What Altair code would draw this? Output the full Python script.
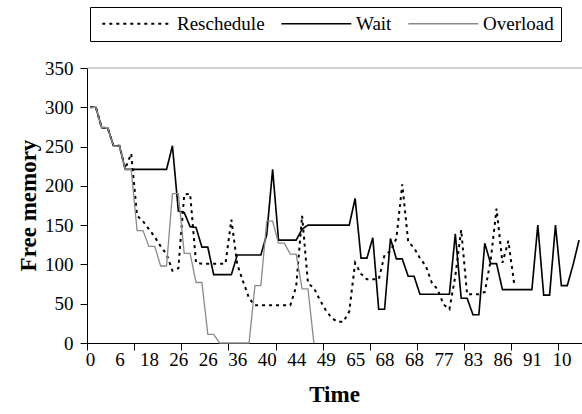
import altair as alt
import pandas as pd

# ---- data ----
series_names = ["Reschedule", "Wait", "Overload"]

# category labels shown every 5th category on the Time axis
time_labels = ["0", "6", "18", "26", "26", "36", "40", "44", "49",
               "65", "68", "68", "77", "83", "86", "91", "10"]

reschedule = [300, 300, 274, 274, 251, 251, 222, 241, 162, 155, 145, 135, 123, 113,
              92, 95, 189, 190, 102, 101, 101, 101, 101, 101, 157, 100, 78, 57,
              48, 48, 48, 48, 48, 48, 48, 72, 162, 76, 70, 55, 42, 32, 27, 27,
              40, 102, 88, 81, 81, 81, 112, 117, 133, 202, 129, 121, 108, 98,
              77, 68, 49, 43, 85, 144, 62, 62, 62, 65, 105, 171, 102, 130, 75,
              None, None, None, None, None, None, None, None, None, None, None]

wait = [300, 300, 274, 274, 251, 251, 221, 221, 221, 221, 221, 221, 221, 221,
        251, 168, 166, 148, 147, 122, 122, 87, 87, 87, 87, 112, 112, 112,
        112, 112, 138, 221, 131, 131, 131, 131, 145, 150, 150, 150, 150, 150,
        150, 150, 150, 184, 108, 108, 134, 43, 43, 133, 107, 107, 85, 85,
        62, 62, 62, 62, 62, 62, 139, 57, 57, 36, 36, 127, 101, 101, 68, 68,
        68, 68, 68, 68, 150, 61, 61, 150, 73, 73, 100, 131]

overload = [300, 300, 274, 274, 251, 251, 221, 221, 143, 143, 123, 123, 98, 98,
            190, 190, 114, 114, 77, 77, 11, 11, 0, 0, 0, 0, 0, 0,
            73, 73, 155, 155, 127, 127, 113, 113, 69, 69, 0,
            None, None, None, None, None, None, None, None, None, None, None,
            None, None, None, None, None, None, None, None, None, None, None,
            None, None, None, None, None, None, None, None, None, None, None,
            None, None, None, None, None, None, None, None, None, None, None, None]

y_ticks = [0, 50, 100, 150, 200, 250, 300, 350]
label_positions = [0, 5, 10, 15, 20, 25, 30, 35, 40, 45, 50, 55, 60, 65, 70, 75, 80]
tick_positions = [-0.5, 7.5, 15.5, 23.5, 31.5, 39.5, 47.5, 55.5, 63.5, 71.5, 79.5]
n_cat = len(wait)

rows = []
for name, vals in zip(series_names, [reschedule, wait, overload]):
    for i, v in enumerate(vals):
        if v is not None:
            rows.append({"idx": i, "value": v, "series": name})
df = pd.DataFrame(rows)
top_df = pd.DataFrame({"value": [350]})

FONT = "Liberation Serif"
labs_js = "[" + ",".join("'%s'" % t for t in time_labels) + "]"
label_expr = "datum.value % 5 == 0 ? " + labs_js + "[datum.value / 5] : ''"

x_scale = alt.Scale(domain=[-0.5, n_cat - 0.5], nice=False, zero=False)
y_scale = alt.Scale(domain=[0, 350], nice=False)

x_axis = alt.Axis(
    values=sorted(tick_positions + label_positions),
    labelExpr=label_expr,
    tickOpacity={"condition": {"test": "datum.value % 5 != 0", "value": 1}, "value": 0},
    tickSize=7, labelPadding=0, labelOverlap=False, labelFlush=False,
    grid=False, title="Time", titleX=247, titleY=51,
    titleAlign="center", titleBaseline="middle",
)
y_axis = alt.Axis(
    values=y_ticks, tickSize=7, labelPadding=7, grid=False,
    title="Free memory", titleX=-59, titleY=137, titleAngle=-90,
    titleAlign="center", titleBaseline="middle",
)

# wide line sample as legend symbol (custom path, scaled by sqrt(size)/2 = 7)
legend = alt.Legend(
    title=None, orient="none", legendX=3, legendY=-61,
    direction="horizontal", columns=3,
    symbolType="M-0.6,0H9.4", symbolSize=196, symbolStrokeWidth=1.6,
    labelFont=FONT, labelFontSize=19, labelColor="black", labelOffset=61,
    strokeColor="black", fillColor="white", padding=7, columnPadding=11,
)

top_rule = alt.Chart(top_df).mark_rule(color="#a0a0a0", strokeWidth=1.2).encode(
    y=alt.Y("value:Q", scale=y_scale, axis=y_axis)
)

lines = alt.Chart(df).mark_line(strokeJoin="miter").encode(
    x=alt.X("idx:Q", scale=x_scale, axis=x_axis),
    y=alt.Y("value:Q", scale=y_scale, axis=y_axis),
    color=alt.Color("series:N", sort=series_names,
                    scale=alt.Scale(domain=series_names, range=["#000000", "#000000", "#8a8a8a"]),
                    legend=legend),
    strokeDash=alt.StrokeDash("series:N", sort=series_names,
                              scale=alt.Scale(domain=series_names, range=[[3, 4], [1, 0], [1, 0]]),
                              legend=legend),
    strokeWidth=alt.StrokeWidth("series:N",
                                scale=alt.Scale(domain=series_names, range=[2.0, 1.3, 1.5]),
                                legend=None),
    order=alt.Order("idx:Q"),
)

chart = alt.layer(top_rule, lines).properties(
    width=495, height=275,
    autosize=alt.AutoSizeParams(type="none"),
    padding={"left": 87, "top": 68, "right": 0, "bottom": 71},
    background="white",
).configure_view(stroke=None).configure_axis(
    labelFont=FONT, labelFontSize=19, labelColor="black",
    titleFont=FONT, titleFontSize=23, titleFontWeight="bold", titleColor="black",
    domainColor="black", tickColor="black", domainWidth=1, tickWidth=1,
)

chart.save("out.html", embed_options={"renderer": "svg", "actions": False})
